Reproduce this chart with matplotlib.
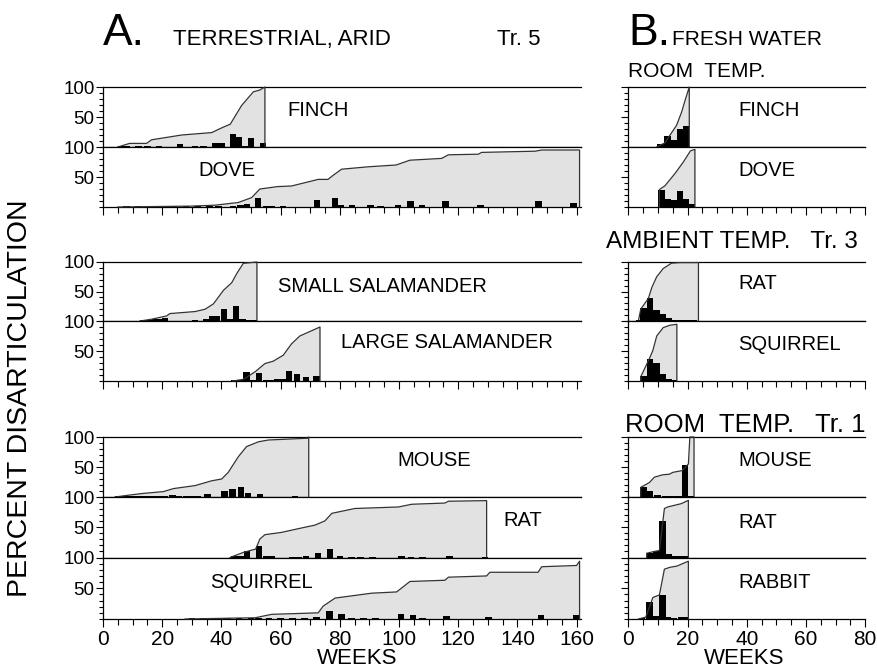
import matplotlib.pyplot as plt
from matplotlib.ticker import MultipleLocator, FixedLocator

plt.rcParams['font.family'] = ['Liberation Sans', 'DejaVu Sans']

# ---------------- A. terrestrial, arid (Tr. 5) ----------------
# cumulative curves: weeks / percent
a_finch_wk = [5, 9, 14.7, 16.4, 26.6, 36.7, 40.6, 43, 46.8, 50.8, 53, 54.7]
a_finch_pct = [0, 6, 6, 12, 20, 24, 33, 38, 69, 92, 95, 100]
a_finch_bar_wk = [6, 8, 12, 15, 19, 26, 31, 34, 38, 40, 44, 46, 48, 50, 54]
a_finch_bar_pct = [1.5, 2, 1, 1.5, 1.5, 5.5, 1, 1, 7, 7, 21, 17, 2, 15, 7]

a_dove_wk = [5, 30, 37.8, 45.7, 50.2, 53, 59, 63.7, 72.7, 76, 77.8, 80.6, 89.6,
             99, 103.7, 114.4, 116.7, 126.8, 127.9, 146, 148.2, 161]
a_dove_pct = [0, 1.5, 3, 7.5, 15.6, 30, 34, 35, 46, 46, 53, 63, 67,
              70, 78, 81, 87, 88, 91, 93, 95, 95]
a_dove_bar_wk = [8, 12, 16, 20, 24, 28, 32, 36, 39, 44, 46.5, 48.7, 52.4, 55, 57,
                 60.8, 72.3, 78.3, 80.2, 84.1, 90.3, 93.8, 99.7, 103.8, 107.7,
                 115.7, 127.5, 147.1, 159]
a_dove_bar_pct = [1, 1, 1, 1, 1, 1, 1, 1.5, 2, 2, 3, 5, 14.5, 2, 1.5,
                  2.5, 11, 15.6, 3, 4, 4, 1.5, 4, 9.7, 4,
                  10, 4, 10, 6]

a_ssal_wk = [12.5, 16.4, 21.5, 22.6, 31.1, 34.5, 37.3, 40.7, 43.5, 45.2, 47.4, 52]
a_ssal_pct = [0, 3, 8.6, 12.6, 16, 20, 29, 52, 65, 80.5, 97.7, 100]
a_ssal_bar_wk = [13.5, 15.5, 17.5, 19, 21, 31, 35, 37, 38.5, 40.9, 43.1, 45, 47.2, 49.5, 51]
a_ssal_bar_pct = [1.5, 2, 3, 3, 5, 1, 4, 8.6, 8.6, 20, 3, 26, 4, 2, 2]

a_lsal_wk = [43.8, 47.4, 51.3, 54.7, 57.5, 60.9, 63.7, 66.5, 69.9, 73.3]
a_lsal_pct = [0, 2.7, 15, 29, 33, 43, 62, 75, 82.5, 90]
a_lsal_bar_wk = [44.5, 46.5, 48.5, 50.5, 52.7, 55, 57, 59, 61, 62.8, 65.5, 68.5, 72.2]
a_lsal_bar_pct = [1.5, 2, 15, 2, 13.7, 2, 2, 3, 3, 16, 12, 7, 9]

a_mouse_wk = [4.1, 8.6, 13.6, 20.4, 23.8, 31.1, 36.7, 40.1, 42.3, 45.7, 48.5,
              52.5, 55.9, 69.4, 69.5]
a_mouse_pct = [0, 3, 6, 9, 14, 19, 27, 30, 41, 67, 84, 92, 95, 98, 100]
a_mouse_bar_wk = [5, 7, 9, 11, 13, 15, 17, 19, 21, 23.5, 25.5, 28, 30, 32, 35.3,
                  41, 43.7, 46.6, 49, 53, 64.8]
a_mouse_bar_pct = [1.5, 1.5, 2, 1, 1, 1, 1, 1, 1, 3, 1, 1.5, 1, 1, 5,
                   10, 13, 16, 7, 5, 2]

a_rat_wk = [42.9, 47.6, 51.6, 53, 54.7, 60.3, 68.2, 71.6, 75, 77.3, 85.1, 99.8,
            104.3, 115.5, 116.7, 129.6]
a_rat_pct = [0, 8.7, 14, 30.6, 37.7, 41.5, 50, 53.5, 60.6, 73, 81, 83.5,
             88, 90, 93, 94]
a_rat_bar_wk = [44.5, 46.5, 48.7, 52.7, 55, 57, 64, 66, 68.5, 72.7, 76.7, 80, 84,
                87, 91, 100.8, 104, 108, 117, 129]
a_rat_bar_pct = [2.5, 2.5, 10, 18.5, 2, 2, 1.5, 1.5, 2, 7.6, 14.7, 3, 1,
                 1, 1, 3, 1.5, 1.5, 2.5, 1]

a_squir_wk = [27.7, 51.4, 57, 72.7, 74.4, 78.4, 90.8, 99.2, 103.7, 115.5, 116.7,
              129.6, 130.7, 147, 148.2, 160, 161]
a_squir_pct = [0, 2, 7.6, 10, 21, 34, 42, 44, 61, 63, 68, 70, 76, 76, 85, 87, 94]
a_squir_bar_wk = [30, 34, 38, 42, 46, 50, 52.5, 56, 60, 64, 68, 72.2, 76.5, 80.5,
                  84, 88, 92, 100.7, 104.7, 108, 116.1, 130.2, 148, 160]
a_squir_bar_pct = [1, 1, 1, 1, 1, 1, 2, 1.5, 1, 1, 1, 3, 13, 8.7,
                   1.5, 1.5, 1.5, 8.7, 6.5, 1.5, 5, 4, 6.5, 6.5]

# ---------------- B. fresh water ----------------
b_finch_wk = [9.6, 12.4, 14.1, 16.3, 18, 19.2, 20.6]
b_finch_pct = [0, 7, 20, 36, 58, 78, 100]
b_finch_bar_wk = [10.9, 13.3, 15.4, 17.4, 19.5]
b_finch_bar_pct = [4.5, 18.6, 11, 30, 35.6]

b_dove_wk = [10.5, 10.5, 12.4, 15.8, 18.6, 21, 22.5]
b_dove_pct = [0, 29, 35.5, 56, 75, 93.6, 96]
b_dove_bar_wk = [11.3, 13.2, 15.2, 17.4, 19.5, 21.5]
b_dove_bar_pct = [29, 14, 12, 26, 14, 5]

b_arat_wk = [3.4, 4.2, 6.8, 8, 9.6, 11.8, 14.6, 17.5, 23.7]
b_arat_pct = [0, 20, 38.5, 57.5, 75, 89, 98, 99, 99]
b_arat_bar_wk = [3.8, 5.2, 7.3, 9.6, 11.8, 13.8, 16, 18, 20, 22]
b_arat_bar_pct = [2, 22, 39, 18.4, 12.6, 5, 1.5, 1, 1, 1]

b_asquir_wk = [4.2, 4.2, 7.1, 8.3, 9.6, 11.8, 14.1, 16.4]
b_asquir_pct = [0, 7, 37, 51, 75, 89, 93, 94.5]
b_asquir_bar_wk = [5.2, 7.3, 9.6, 11.5, 13.5, 15.5]
b_asquir_bar_pct = [8, 37, 30, 11.5, 4, 1.5]

b_mouse_wk = [4.2, 4.2, 7.1, 8.8, 11.6, 13.9, 15, 18.2, 20.3, 20.8, 22.2]
b_mouse_pct = [0, 16, 24, 33, 37, 38, 41, 44, 55, 100, 100]
b_mouse_bar_wk = [5.2, 7.3, 9.9, 12.5, 15, 17, 19.2, 21.2]
b_mouse_bar_pct = [16, 10, 4, 2, 2, 2, 54, 1]

b_rat_wk = [6.2, 6.2, 8.8, 10.5, 12.2, 13.3, 17.9, 20.3]
b_rat_pct = [0, 7, 10, 11.5, 81, 83.5, 89, 94.5]
b_rat_bar_wk = [7.4, 9.5, 11.5, 13.5, 15.5, 17.5, 19.5]
b_rat_bar_pct = [7.6, 10, 60.6, 5, 2.5, 3, 3]

b_rabbit_wk = [3.4, 5.9, 7.7, 8.3, 10.5, 12.2, 14, 16.4, 20.3]
b_rabbit_pct = [0, 3, 27, 35, 39, 81, 84, 86, 94]
b_rabbit_bar_wk = [4.6, 7.1, 9.4, 11.5, 13.3, 15.3, 18, 19.5]
b_rabbit_bar_pct = [2, 27, 5, 39, 4, 1.5, 3, 3]

W, H = 877, 670
PX_PER_WEEK = 2.96
ROWS = [(87, 147), (147, 207), (262, 321), (321, 381),
        (437, 497), (497, 557.5), (557.5, 619)]
GROUP_BOTTOM = {1, 3, 6}


def fx(px):
    return px / W


def fy(py):
    return 1 - py / H


def make_axes(fig, left_px, xmax, row, ylabels):
    top, bot = ROWS[row]
    ax = fig.add_axes([fx(left_px), fy(bot), xmax * PX_PER_WEEK / W, (bot - top) / H])
    ax.set_xlim(0, xmax)
    ax.set_ylim(0, 100)
    ax.spines['right'].set_visible(False)
    for s in ('left', 'top', 'bottom'):
        ax.spines[s].set_linewidth(0.9)
    ax.yaxis.set_major_locator(FixedLocator([50, 100]))
    ax.yaxis.set_minor_locator(MultipleLocator(10))
    ax.tick_params(axis='y', which='major', length=5, width=0.8, pad=1,
                   labelsize=13.5, labelleft=ylabels)
    ax.tick_params(axis='y', which='minor', length=3, width=0.8)
    if row in GROUP_BOTTOM:
        ax.xaxis.set_major_locator(MultipleLocator(20))
        ax.xaxis.set_minor_locator(MultipleLocator(5))
        ax.tick_params(axis='x', which='major', length=6, width=0.8, pad=2,
                       labelsize=15, labelbottom=(row == 6))
        ax.tick_params(axis='x', which='minor', length=4, width=0.8)
    else:
        ax.tick_params(axis='x', which='both', bottom=False, labelbottom=False)
    return ax


def draw(ax, wk, pct, bar_wk, bar_pct):
    ax.fill_between(wk, pct, 0, color='#e2e2e2', lw=0, zorder=1)
    ax.bar(bar_wk, bar_pct, width=2.2, color='black', lw=0, zorder=3)
    ax.plot(list(wk) + [wk[-1]], list(pct) + [0], color='#333333', lw=0.9,
            zorder=4, clip_on=False)


fig = plt.figure(figsize=(W / 100, H / 100), dpi=100)

A_LEFT, A_MAX = 103, 161.5
B_LEFT, B_MAX = 628.3, 80

panel_a = [
    (a_finch_wk, a_finch_pct, a_finch_bar_wk, a_finch_bar_pct, 'FINCH', 318, 110),
    (a_dove_wk, a_dove_pct, a_dove_bar_wk, a_dove_bar_pct, 'DOVE', 227, 171),
    (a_ssal_wk, a_ssal_pct, a_ssal_bar_wk, a_ssal_bar_pct, 'SMALL SALAMANDER', 382, 286),
    (a_lsal_wk, a_lsal_pct, a_lsal_bar_wk, a_lsal_bar_pct, 'LARGE SALAMANDER', 447, 343),
    (a_mouse_wk, a_mouse_pct, a_mouse_bar_wk, a_mouse_bar_pct, 'MOUSE', 434, 460),
    (a_rat_wk, a_rat_pct, a_rat_bar_wk, a_rat_bar_pct, 'RAT', 523, 520),
    (a_squir_wk, a_squir_pct, a_squir_bar_wk, a_squir_bar_pct, 'SQUIRREL', 261, 583),
]
panel_b = [
    (b_finch_wk, b_finch_pct, b_finch_bar_wk, b_finch_bar_pct, 'FINCH', 111),
    (b_dove_wk, b_dove_pct, b_dove_bar_wk, b_dove_bar_pct, 'DOVE', 170),
    (b_arat_wk, b_arat_pct, b_arat_bar_wk, b_arat_bar_pct, 'RAT', 284),
    (b_asquir_wk, b_asquir_pct, b_asquir_bar_wk, b_asquir_bar_pct, 'SQUIRREL', 344),
    (b_mouse_wk, b_mouse_pct, b_mouse_bar_wk, b_mouse_bar_pct, 'MOUSE', 461),
    (b_rat_wk, b_rat_pct, b_rat_bar_wk, b_rat_bar_pct, 'RAT', 523),
    (b_rabbit_wk, b_rabbit_pct, b_rabbit_bar_wk, b_rabbit_bar_pct, 'RABBIT', 583),
]

for row, (wk, pct, bwk, bpct, name, lx, ly) in enumerate(panel_a):
    ax = make_axes(fig, A_LEFT, A_MAX, row, True)
    draw(ax, wk, pct, bwk, bpct)
    fig.text(fx(lx), fy(ly), name, ha='center', va='center', fontsize=14.5)

for row, (wk, pct, bwk, bpct, name, ly) in enumerate(panel_b):
    ax = make_axes(fig, B_LEFT, B_MAX, row, False)
    draw(ax, wk, pct, bwk, bpct)
    fig.text(fx(738), fy(ly), name, ha='left', va='center', fontsize=14.5)

# headings
fig.text(fx(103), fy(45), 'A.', fontsize=32, va='baseline')
fig.text(fx(173), fy(45), 'TERRESTRIAL, ARID', fontsize=16, va='baseline')
fig.text(fx(497), fy(45), 'Tr. 5', fontsize=16, va='baseline')
fig.text(fx(628), fy(45), 'B.', fontsize=32, va='baseline')
fig.text(fx(672), fy(45), 'FRESH WATER', fontsize=15, va='baseline')
fig.text(fx(628), fy(77), 'ROOM  TEMP.', fontsize=15, va='baseline')
fig.text(fx(606), fy(248), 'AMBIENT TEMP.   Tr. 3', fontsize=17.5, va='baseline')
fig.text(fx(625), fy(432), 'ROOM  TEMP.   Tr. 1', fontsize=18.5, va='baseline')

fig.text(fx(20), fy(398), 'PERCENT DISARTICULATION', rotation=90,
         ha='center', va='center', fontsize=20.5)
fig.text(fx(357), fy(664), 'WEEKS', ha='center', va='baseline', fontsize=16)
fig.text(fx(744), fy(664), 'WEEKS', ha='center', va='baseline', fontsize=16)

fig.savefig('out.png', dpi=100)
